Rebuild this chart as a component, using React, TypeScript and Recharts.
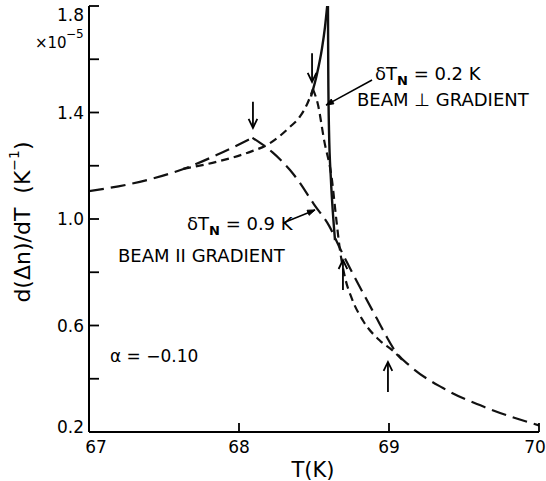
import React from 'react';
import { ComposedChart, Line, XAxis, YAxis, ReferenceLine } from 'recharts';

const W = 546;
const H = 481;
const FONT = '"DejaVu Sans", sans-serif';

// Axis ticks
const xTicks = [67, 68, 69, 70];
const xTickLabels = ['67', '68', '69', '70'];
const yTicks = [0.2, 0.4, 0.6, 0.8, 1.0, 1.2, 1.4, 1.6, 1.8];
const yTickLabels = ['0.2', '', '0.6', '', '1.0', '', '1.4', '', '1.8'];

// δT_N = 0.9 K, beam ∥ gradient (long dashes) — rising part up to the peak
const parRiseT = [67.0, 67.27, 67.63, 67.85, 68.09];
const parRiseV = [1.105, 1.131, 1.188, 1.24, 1.305];
// falling part after the peak
const parFallT = [68.09, 68.22, 68.34, 68.393, 68.5, 68.6, 68.673, 68.74, 68.827, 68.92, 68.987, 69.04, 69.14, 69.36, 69.653, 70.0];
const parFallV = [1.305, 1.252, 1.184, 1.146, 1.055, 0.975, 0.89, 0.815, 0.722, 0.625, 0.555, 0.505, 0.448, 0.365, 0.29, 0.225];

// δT_N = 0.2 K, beam ⊥ gradient (short dashes)
const perpRiseT = [67.627, 67.873, 68.053, 68.207, 68.34, 68.407, 68.453, 68.493];
const perpRiseV = [1.188, 1.218, 1.248, 1.285, 1.346, 1.385, 1.43, 1.488];
const perpFallT = [68.493, 68.527, 68.567, 68.62, 68.647, 68.673, 68.707, 68.753, 68.827, 68.94, 69.027, 69.09];
const perpFallV = [1.488, 1.428, 1.297, 1.146, 1.007, 0.884, 0.78, 0.7, 0.618, 0.543, 0.505, 0.47];

// ideal curve (solid), below and above Tc
const idealLowT = [68.48, 68.52, 68.553, 68.573, 68.588];
const idealLowV = [1.46, 1.545, 1.64, 1.72, 1.8];
const idealHighT = [68.593, 68.595, 68.6, 68.613, 68.627, 68.64];
const idealHighV = [1.8, 1.56, 1.334, 1.146, 1.015, 0.921];

// peak-marking arrows: [T, tail value, head value]
const arrowT = [68.093, 68.487, 68.693, 68.993];
const arrowTail = [1.44, 1.623, 0.733, 0.35];
const arrowHead = [1.342, 1.515, 0.846, 0.463];

// leader lines: [T tail, V tail, T head, V head]
const leaderFromT = [68.887, 68.293];
const leaderFromV = [1.522, 0.985];
const leaderToT = [68.58, 68.507];
const leaderToV = [1.428, 1.034];

const rows = (t: number[], v: number[]) => t.map((x, i) => ({ t: x, v: v[i] }));

const XTick = (props: any) => {
  const { x, y, payload, side } = props;
  const i = xTicks.indexOf(payload.value);
  if (side === 'top') {
    return <line x1={x} y1={y} x2={x} y2={y + 9} stroke="#000" strokeWidth={1.8} />;
  }
  const dx = i === 0 ? 7 : i === xTicks.length - 1 ? -4 : 0;
  return (
    <g>
      <line x1={x} y1={y} x2={x} y2={y - 9} stroke="#000" strokeWidth={1.8} />
      <text x={x + dx} y={y + 21} textAnchor="middle" fontFamily={FONT} fontSize={17} fill="#000">
        {xTickLabels[i]}
      </text>
    </g>
  );
};

const YTick = (props: any) => {
  const { x, y, payload, side } = props;
  const i = yTicks.findIndex((v) => Math.abs(v - payload.value) < 1e-6);
  if (side === 'right') {
    return <line x1={x} y1={y} x2={x - 10} y2={y} stroke="#000" strokeWidth={1.8} />;
  }
  const lab = yTickLabels[i] || '';
  const dy = lab === '1.8' ? 9 : lab === '0.2' ? -5 : 0;
  return (
    <g>
      <line x1={x} y1={y} x2={x + 10} y2={y} stroke="#000" strokeWidth={1.8} />
      {lab ? (
        <text x={x - 5} y={y + dy + 6} textAnchor="end" fontFamily={FONT} fontSize={17} fill="#000">
          {lab}
        </text>
      ) : null}
    </g>
  );
};

const OpenArrow = (props: any) => {
  const { x1, y1, x2, y2 } = props;
  const ang = Math.atan2(y2 - y1, x2 - x1);
  const L = 10;
  const w = 0.45;
  const ax = x2 - L * Math.cos(ang - w);
  const ay = y2 - L * Math.sin(ang - w);
  const bx = x2 - L * Math.cos(ang + w);
  const by = y2 - L * Math.sin(ang + w);
  return (
    <g>
      <line x1={x1} y1={y1} x2={x2} y2={y2} stroke="#000" strokeWidth={1.8} />
      <polyline points={`${ax},${ay} ${x2},${y2} ${bx},${by}`} fill="none" stroke="#000" strokeWidth={1.8} />
    </g>
  );
};

const FilledArrow = (props: any) => {
  const { x1, y1, x2, y2 } = props;
  const ang = Math.atan2(y2 - y1, x2 - x1);
  const L = 8;
  const w = 0.35;
  const ax = x2 - L * Math.cos(ang - w);
  const ay = y2 - L * Math.sin(ang - w);
  const bx = x2 - L * Math.cos(ang + w);
  const by = y2 - L * Math.sin(ang + w);
  return (
    <g>
      <line x1={x1} y1={y1} x2={x2} y2={y2} stroke="#000" strokeWidth={1.5} />
      <polygon points={`${ax},${ay} ${x2},${y2} ${bx},${by}`} fill="#000" stroke="#000" strokeWidth={1} />
    </g>
  );
};

const lineCommon = {
  xAxisId: 'b',
  yAxisId: 'l',
  dataKey: 'v',
  type: 'monotone' as const,
  stroke: '#111',
  dot: false,
  activeDot: false,
  isAnimationActive: false,
  legendType: 'none' as const,
};

export default function App() {
  return (
    <div style={{ position: 'absolute', left: 0, top: 0, width: W, height: H, background: '#fff' }}>
      <ComposedChart width={W} height={H} margin={{ top: 6, right: 7, bottom: 9, left: 29 }}>
        <XAxis
          xAxisId="b"
          type="number"
          dataKey="t"
          domain={[67, 70]}
          ticks={xTicks}
          interval={0}
          orientation="bottom"
          height={40}
          allowDataOverflow
          tickSize={0}
          tickMargin={0}
          tickLine={false}
          axisLine={{ stroke: '#000', strokeWidth: 2 }}
          tick={<XTick side="bottom" />}
        />
        <XAxis
          xAxisId="t"
          type="number"
          dataKey="t"
          domain={[67, 70]}
          ticks={xTicks}
          interval={0}
          orientation="top"
          height={0}
          allowDataOverflow
          tickSize={0}
          tickMargin={0}
          tickLine={false}
          axisLine={{ stroke: '#000', strokeWidth: 2 }}
          tick={<XTick side="top" />}
        />
        <YAxis
          yAxisId="l"
          type="number"
          domain={[0.2, 1.8]}
          ticks={yTicks}
          interval={0}
          orientation="left"
          width={60}
          allowDataOverflow
          tickSize={0}
          tickMargin={0}
          tickLine={false}
          axisLine={{ stroke: '#000', strokeWidth: 2 }}
          tick={<YTick side="left" />}
        />
        <YAxis
          yAxisId="r"
          type="number"
          domain={[0.2, 1.8]}
          ticks={yTicks}
          interval={0}
          orientation="right"
          width={0}
          allowDataOverflow
          tickSize={0}
          tickMargin={0}
          tickLine={false}
          axisLine={{ stroke: '#000', strokeWidth: 2 }}
          tick={<YTick side="right" />}
        />

        <Line {...lineCommon} data={rows(parRiseT, parRiseV)} strokeWidth={2.2} strokeDasharray="15 7" />
        <Line {...lineCommon} data={rows(parFallT, parFallV)} strokeWidth={2.2} strokeDasharray="15 7" />
        <Line {...lineCommon} data={rows(perpRiseT, perpRiseV)} strokeWidth={2.2} strokeDasharray="8 5" />
        <Line {...lineCommon} data={rows(perpFallT, perpFallV)} strokeWidth={2.2} strokeDasharray="8 5" />
        <Line {...lineCommon} data={rows(idealLowT, idealLowV)} strokeWidth={2.4} />
        <Line {...lineCommon} data={rows(idealHighT, idealHighV)} strokeWidth={2.4} />

        {arrowT.map((t, i) => (
          <ReferenceLine
            key={`a${i}`}
            xAxisId="b"
            yAxisId="l"
            segment={[{ x: t, y: arrowTail[i] }, { x: t, y: arrowHead[i] }]}
            shape={<OpenArrow />}
          />
        ))}
        {leaderFromT.map((t, i) => (
          <ReferenceLine
            key={`l${i}`}
            xAxisId="b"
            yAxisId="l"
            segment={[{ x: t, y: leaderFromV[i] }, { x: leaderToT[i], y: leaderToV[i] }]}
            shape={<FilledArrow />}
          />
        ))}
      </ComposedChart>

      <svg
        width={W}
        height={H}
        style={{ position: 'absolute', left: 0, top: 0, pointerEvents: 'none' }}
        fontFamily={FONT}
      >
        <text x={35} y={48} fontSize={15} fill="#000">
          ×10
        </text>
        <text x={66} y={38} fontSize={12} fill="#000">
          −5
        </text>
        <text
          x={22}
          y={222}
          transform="rotate(-90 22 222)"
          textAnchor="middle"
          fontSize={22}
          fill="#000"
          dominantBaseline="central"
        >
          d(Δn)/dT{'\u00a0\u00a0'}(K
          <tspan fontSize={14} dy={-8}>−1</tspan>
          <tspan dy={8}>)</tspan>
        </text>
        <text x={313} y={477} textAnchor="middle" fontSize={21} fill="#000">
          T(K)
        </text>
        <text x={375} y={80} fontSize={18} fill="#000">
          δT<tspan fontSize={13} fontWeight="bold" dy={5}>N</tspan>
          <tspan dy={-5}> = 0.2 K</tspan>
        </text>
        <text x={357} y={106} fontSize={18} fill="#000">
          BEAM ⊥ GRADIENT
        </text>
        <text x={187} y={230} fontSize={18} fill="#000">
          δT<tspan fontSize={13} fontWeight="bold" dy={5}>N</tspan>
          <tspan dy={-5}> = 0.9 K</tspan>
        </text>
        <text x={118} y={262} fontSize={18} fill="#000">
          BEAM II GRADIENT
        </text>
        <text x={110} y={362} fontSize={17} fill="#000">
          α = −0.10
        </text>
      </svg>
    </div>
  );
}
